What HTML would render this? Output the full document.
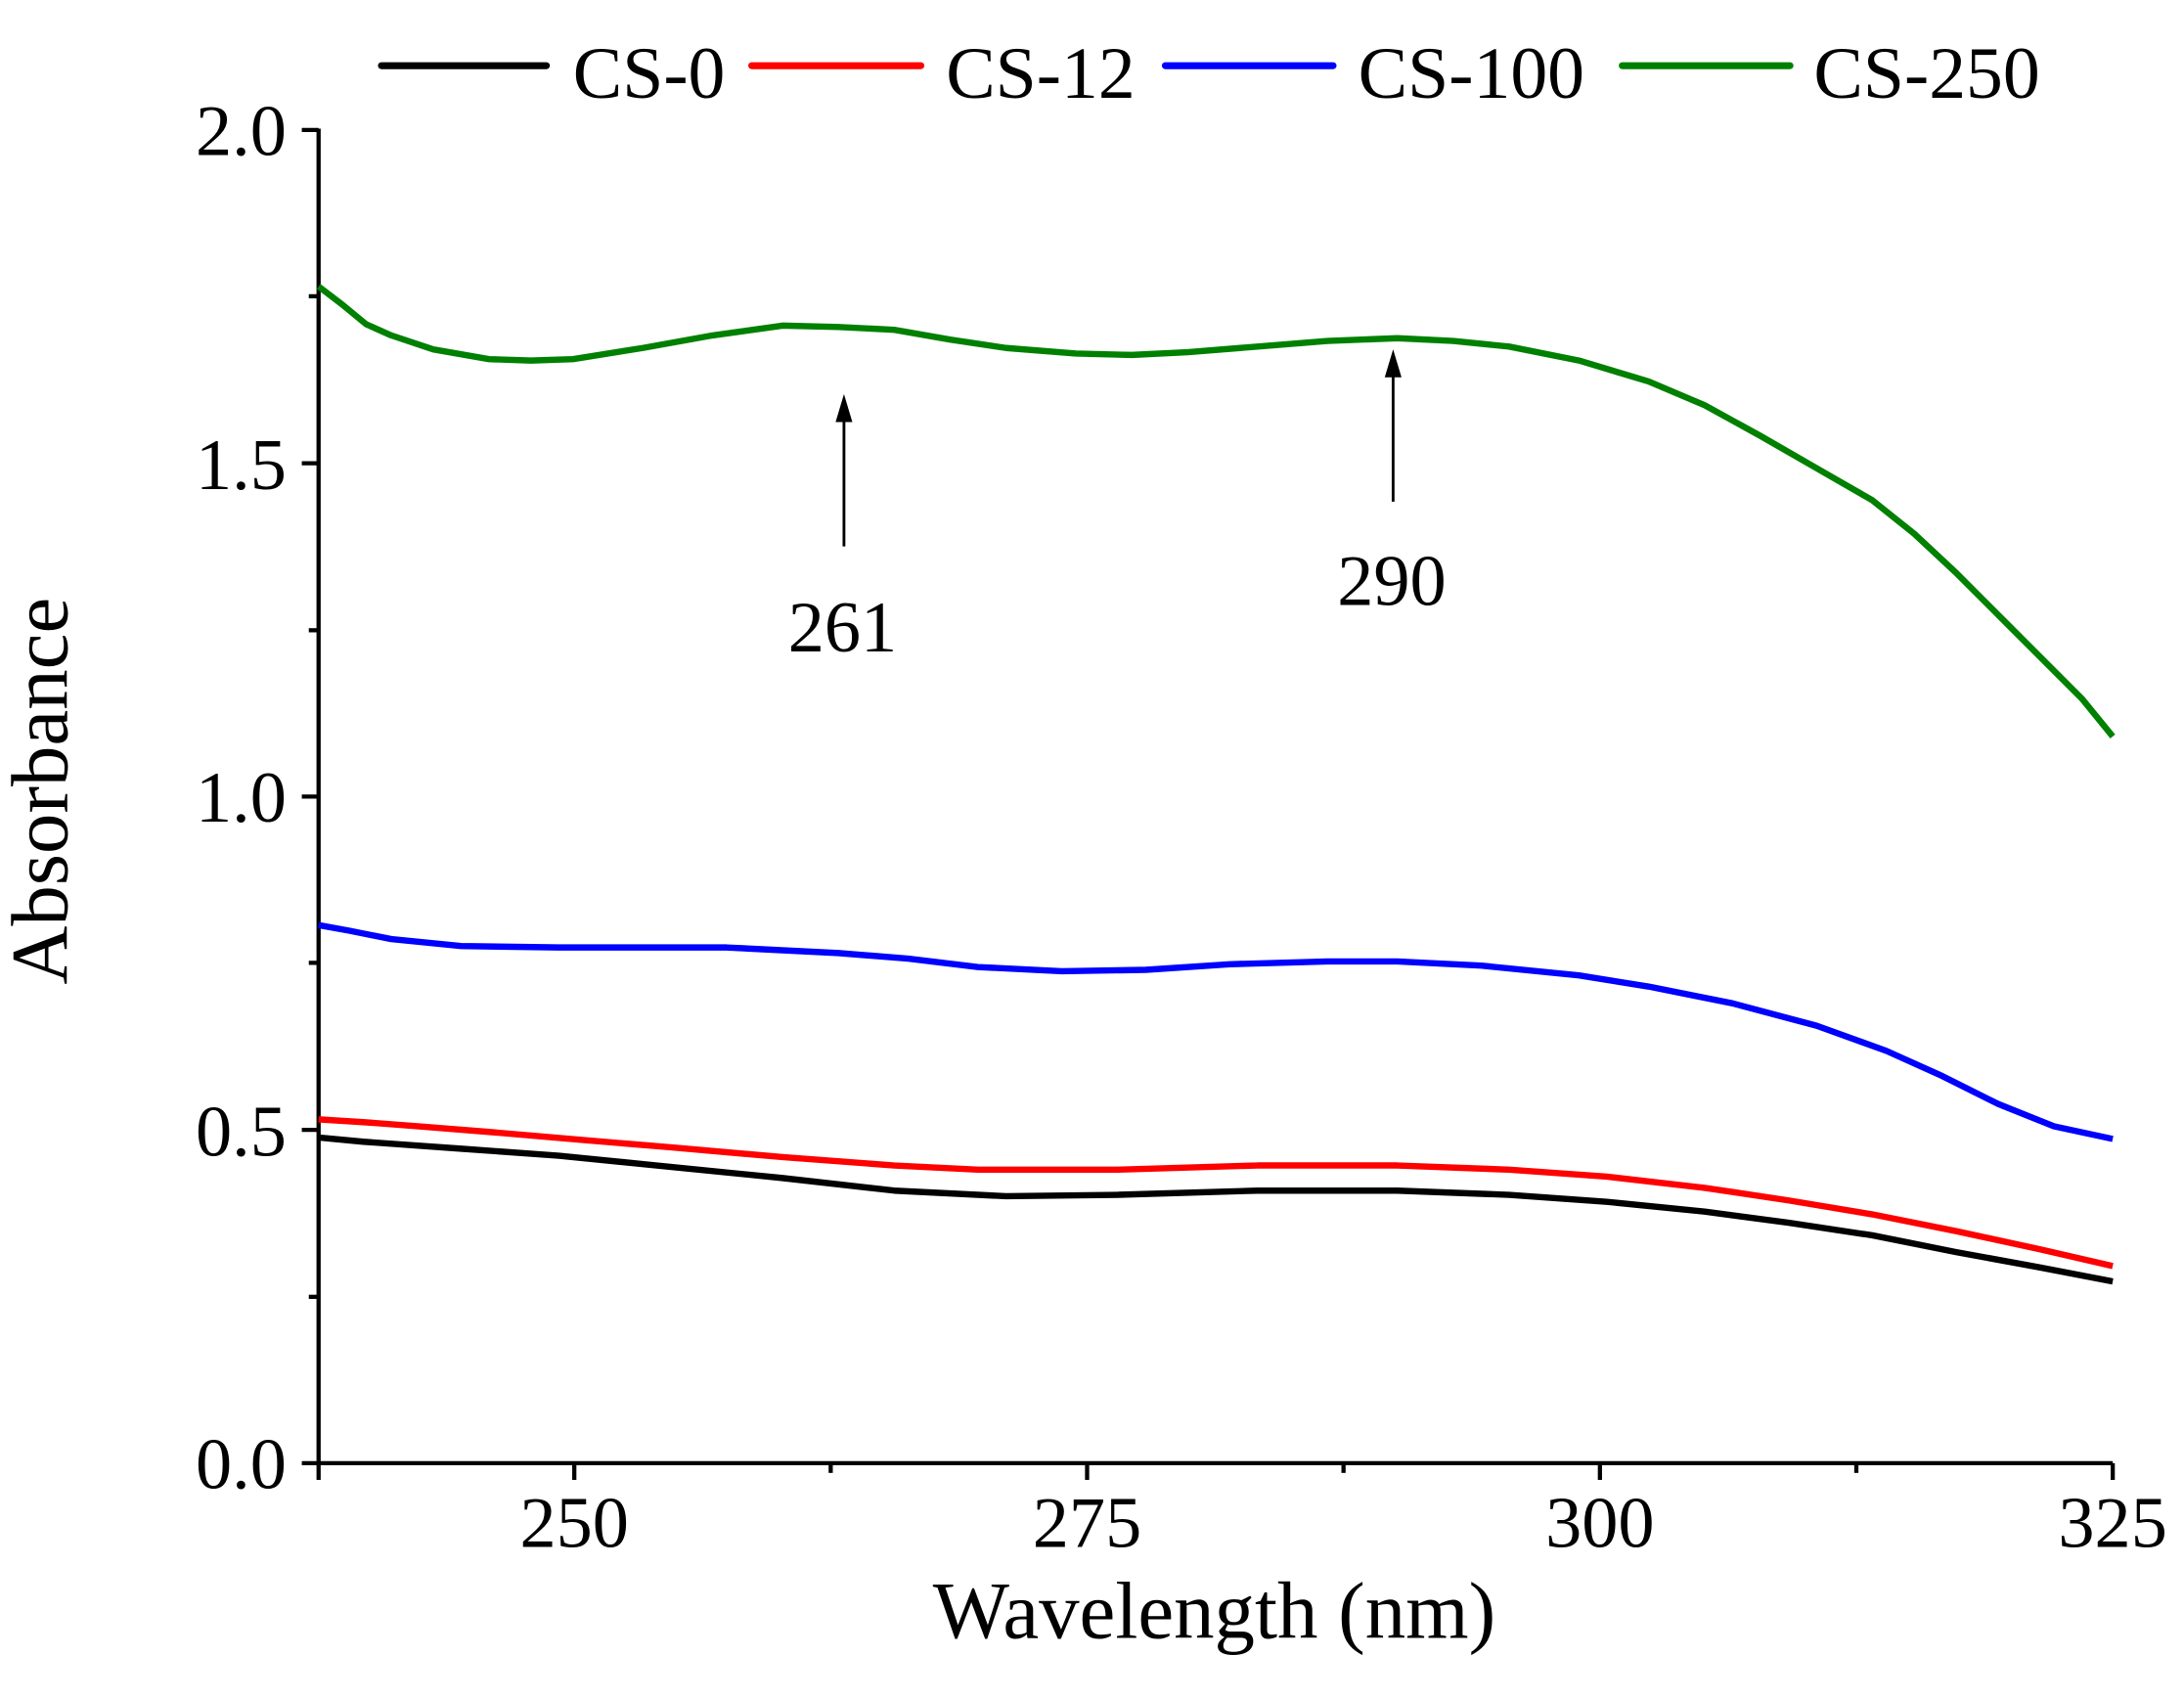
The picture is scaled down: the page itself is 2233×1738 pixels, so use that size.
<!DOCTYPE html>
<html><head><meta charset="utf-8"><style>
html,body{margin:0;padding:0;background:#fff;}
svg{display:block;}
text{font-family:"Liberation Serif","DejaVu Serif",serif;fill:#000;}
</style></head><body>
<svg width="2233" height="1738" viewBox="0 0 1563 1216.5" preserveAspectRatio="none" xmlns="http://www.w3.org/2000/svg">
<rect width="1563" height="1216.5" fill="#fff"/>
<g stroke-width="5" stroke-linecap="round">
<line x1="273" y1="47" x2="391" y2="47" stroke="#000"/>
<line x1="538" y1="47" x2="659" y2="47" stroke="#f00"/>
<line x1="834" y1="47" x2="954" y2="47" stroke="#00f"/>
<line x1="1161" y1="47" x2="1281" y2="47" stroke="#008000"/>
</g>
<g font-size="53">
<text x="410" y="70">CS-0</text>
<text x="677" y="70">CS-12</text>
<text x="972" y="70">CS-100</text>
<text x="1298" y="70">CS-250</text>
</g>
<g stroke="#000" stroke-width="3" fill="none">
<polyline points="228,92 228,1047 1512,1047"/>
<line x1="216" y1="93" x2="228" y2="93"/>
<line x1="216" y1="331.5" x2="228" y2="331.5"/>
<line x1="216" y1="570" x2="228" y2="570"/>
<line x1="216" y1="808.5" x2="228" y2="808.5"/>
<line x1="216" y1="1047" x2="228" y2="1047"/>
<line x1="221" y1="212" x2="228" y2="212"/>
<line x1="221" y1="451" x2="228" y2="451"/>
<line x1="221" y1="689" x2="228" y2="689"/>
<line x1="221" y1="928" x2="228" y2="928"/>
<line x1="228" y1="1047" x2="228" y2="1059"/>
<line x1="411" y1="1047" x2="411" y2="1059"/>
<line x1="778" y1="1047" x2="778" y2="1059"/>
<line x1="1145" y1="1047" x2="1145" y2="1059"/>
<line x1="1512" y1="1047" x2="1512" y2="1059"/>
<line x1="594.5" y1="1047" x2="594.5" y2="1054"/>
<line x1="961.5" y1="1047" x2="961.5" y2="1054"/>
<line x1="1328.5" y1="1047" x2="1328.5" y2="1054"/>
</g>
<g font-size="52" text-anchor="end">
<text x="205" y="111">2.0</text>
<text x="205" y="350">1.5</text>
<text x="205" y="588">1.0</text>
<text x="205" y="827">0.5</text>
<text x="205" y="1065">0.0</text>
</g>
<g font-size="52" text-anchor="middle">
<text x="411" y="1107">250</text>
<text x="778" y="1107">275</text>
<text x="1145" y="1107">300</text>
<text x="1512" y="1107">325</text>
</g>
<text x="869" y="1172" font-size="58" text-anchor="middle">Wavelength (nm)</text>
<text transform="translate(48,566) rotate(-90)" font-size="58" text-anchor="middle">Absorbance</text>
<g fill="none" stroke-width="4.5" stroke-linejoin="round">
<polyline stroke="#008000" points="228,205 245,218 262,232 280,240 310,250 350,257 380,258 410,257 460,249 510,240 560,233 600,234 640,236 680,243 720,249 770,253 810,254 850,252 900,248 950,244 1000,242 1040,244 1080,248 1130,258 1180,273 1220,290 1260,312 1300,335 1340,358 1370,382 1400,410 1430,440 1460,470 1490,500 1512,527"/>
<polyline stroke="#00f" points="228,662 250,666 280,672 330,677 400,678 520,678 600,682 650,686 700,692 760,695 820,694 880,690 950,688 1000,688 1060,691 1130,698 1180,706 1240,718 1300,734 1350,752 1390,770 1430,790 1470,806 1512,815"/>
<polyline stroke="#f00" points="228,801 260,803 300,806 350,810 420,816 480,821 560,828 640,834 700,837 800,837 900,834 1000,834 1080,837 1150,842 1220,850 1280,859 1340,869 1400,881 1460,894 1512,906"/>
<polyline stroke="#000" points="228,814 260,817 330,822 400,827 470,834 560,843 640,852 720,856 800,855 900,852 1000,852 1080,855 1150,860 1220,867 1280,875 1340,884 1400,896 1460,907 1512,917"/>
</g>
<g stroke="#000" stroke-width="2">
<line x1="604" y1="391" x2="604" y2="300"/>
<line x1="997" y1="359" x2="997" y2="268"/>
</g>
<polygon points="604,282 598,302 610,302" fill="#000"/>
<polygon points="997,250 991,270 1003,270" fill="#000"/>
<g font-size="52" text-anchor="middle">
<text x="603" y="466">261</text>
<text x="996" y="433">290</text>
</g>
</svg>
</body></html>
